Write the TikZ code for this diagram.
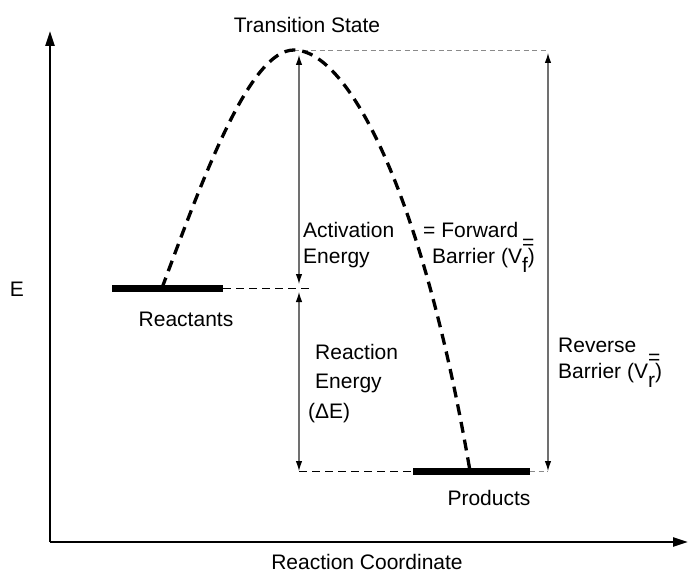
\documentclass[tikz,border=0pt]{standalone}
\usepackage{xcolor}
\usepackage{fontspec}
\setmainfont{Liberation Sans}
\usepackage{tikz}
\usetikzlibrary{arrows.meta,positioning}
\definecolor{shaftgray}{HTML}{707070}
\definecolor{guidegray}{HTML}{8A8A8A}
\newcommand{\Vbar}[1]{V\rlap{\raisebox{0.62em}{=}}\raisebox{-0.45em}{#1}}

\begin{document}
\begin{tikzpicture}[
  x=1pt,y=-1pt,
  font=\fontsize{21}{26}\selectfont,
  lbl/.style={align=left,inner sep=0pt,anchor=base west},
  axis/.style={line width=2.2pt,-{Triangle[length=15pt,width=9pt]}},
  level/.style={line width=7pt},
  guide/.style={line width=1pt,dash pattern=on 8pt off 5pt},
  fineguide/.style={line width=0.9pt,guidegray,dash pattern=on 5pt off 3.5pt},
  barrier/.style={line width=3.3pt,dash pattern=on 11pt off 7pt},
  dimarrow/.style={shaftgray,line width=1.1pt,{Latex[length=10pt,width=6.5pt,black]}-{Latex[length=10pt,width=6.5pt,black]}}
]
\useasboundingbox (0,0) rectangle (688,572);

% axes
\coordinate (origin) at (50,542);
\coordinate (ytop) at (50,31);
\coordinate (xend) at (688,542);
\draw[axis] (origin) -- (ytop);
\draw[axis] (origin) -- (xend);

% energy levels
\coordinate (ts) at (294,50);
\coordinate (reacL) at (112,288);
\coordinate (reacR) at (223,288);
\coordinate (prodL) at (413,471);
\coordinate (prodR) at (530,471);
\coordinate (reacStart) at (162,288);
\coordinate (prodEnd) at (470,471);
\draw[level] (reacL) -- (reacR);
\draw[level] (prodL) -- (prodR);

% dimension columns
\coordinate (actTop) at (299,50);
\coordinate (actMid) at (299,288);
\coordinate (actMidR) at (311,288);
\coordinate (actBot) at (299,471);
\coordinate (revTop) at (548,50);
\coordinate (revBot) at (548,471);

\draw[fineguide] (ts) -- (revTop);
\draw[guide] (reacR) -- (actMidR);
\draw[guide] (actBot) -- (prodL);
\draw[fineguide] (prodR) -- (revBot);

\draw[barrier] (reacStart) .. controls (204,175) and (250,50) .. (ts)
  .. controls (345,50) and (420,180) .. (prodEnd);

\draw[dimarrow,shorten <=5pt,shorten >=4pt] (actTop) -- (actMid);
\draw[dimarrow,shorten <=4pt] (actMid) -- (actBot);
\draw[dimarrow,shorten <=3pt] (revTop) -- (revBot);

% labels
\node[anchor=base] (tslabel) at (307,33) {Transition State};
\node[anchor=base] (xlabel) at (367,569) {Reaction Coordinate};
\node (elabel) at (17,289) {E};
\node[anchor=base] (reaclabel) at (186,326) {Reactants};
\node[anchor=base] (prodlabel) at (489,505) {Products};
\node[lbl] (actlabel) at (303,263) {Activation\\Energy};
\node[lbl] (fwdlabel) at (423,263) {= Forward\\\hspace*{9pt}Barrier (\Vbar{f})};
\node[lbl] (rxnlabel) at (315,388) {Reaction\\[3pt]Energy};
\node[lbl] (delabel) at (308,418) {(ΔE)};
\node[lbl] (revlabel) at (558,378) {Reverse\\Barrier (\Vbar{r})};
\end{tikzpicture}
\end{document}
